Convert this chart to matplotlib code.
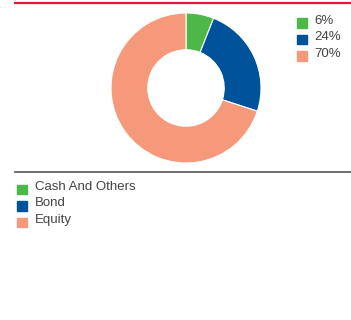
import matplotlib.pyplot as plt
from matplotlib.patches import Rectangle
from matplotlib.lines import Line2D

plt.rcParams['font.family'] = ['Liberation Sans', 'DejaVu Sans']

# asset allocation
labels = ['Cash And Others', 'Bond', 'Equity']
shares = [6, 24, 70]
colors = ['#4db848', '#00529b', '#f6997a']

W, H = 351, 320
fig = plt.figure(figsize=(W / 100, H / 100), dpi=100)


def px(x, y):
    # pixel position (from top-left) to figure fraction
    return x / W, 1 - y / H


# top red rule and the divider under the donut
fig.add_artist(Line2D([15 / W, 1], [1 - 3 / H] * 2, color='#e5173f', lw=1.6))
fig.add_artist(Line2D([15 / W, 1], [1 - 172 / H] * 2, color='#555555', lw=1.2))

# donut
ax = fig.add_axes([111 / W, 1 - 163 / H, 150 / W, 150 / H])
ax.pie(shares, colors=colors, startangle=90, counterclock=False, radius=1,
       wedgeprops=dict(width=0.49, edgecolor='white', linewidth=0.8))
ax.set_xlim(-1, 1)
ax.set_ylim(-1, 1)
ax.set_aspect('equal')
ax.axis('off')

# percentage legend on the right
for i, (s, c) in enumerate(zip(shares, colors)):
    y = 21 + i * 16.5
    x0, y0 = px(297, y + 6.5)
    fig.add_artist(Rectangle((x0, y0), 9.5 / W, 9.5 / H, color=c,
                             transform=fig.transFigure))
    fig.text(*px(314, y), f'{s}%', fontsize=9.5, color='#444444', va='center')

# category legend below
for i, (lab, c) in enumerate(zip(labels, colors)):
    y = 187 + i * 16.5
    x0, y0 = px(17, y + 7)
    fig.add_artist(Rectangle((x0, y0), 9.5 / W, 9.5 / H, color=c,
                             transform=fig.transFigure))
    fig.text(*px(35, y), lab, fontsize=9.5, color='#444444', va='center')

fig.savefig('out.png', dpi=100)
